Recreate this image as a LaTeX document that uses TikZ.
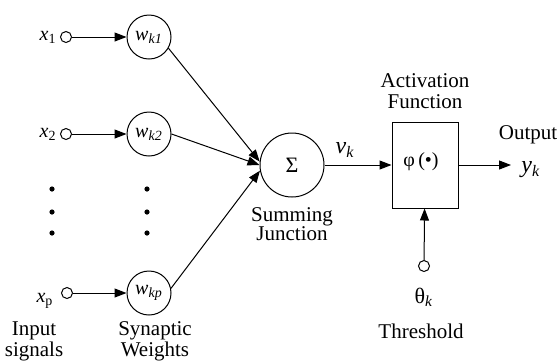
\documentclass[tikz,border=0pt]{standalone}
\usepackage{fontspec}
\setmainfont{Liberation Serif}
\usetikzlibrary{arrows.meta,positioning}
\tikzset{
  >={Triangle[length=6pt,width=4.5pt]},
  pin/.style={circle,draw,line width=0.5pt,inner sep=0pt,minimum size=5.5pt},
  weight/.style={circle,draw,line width=0.5pt,inner sep=0pt,minimum size=22pt,
                 font=\fontsize{10}{11}\selectfont},
  summer/.style={circle,draw,line width=0.5pt,inner sep=0pt,minimum size=32pt,
                 font=\fontsize{11}{12}\selectfont},
  actbox/.style={rectangle,draw,line width=0.5pt,inner sep=0pt,
                 minimum width=33pt,minimum height=43pt},
  sig/.style={inner sep=1pt,font=\fontsize{10}{11}\selectfont},
  caption/.style={align=center,inner sep=0pt,font=\fontsize{10.5}{9.5}\selectfont},
  flow/.style={->,line width=0.5pt},
}
\begin{document}
\begin{tikzpicture}[x=0.5pt,y=-0.5pt]
  \useasboundingbox (0,0) rectangle (560,360);
  % input signals and synaptic weights
  \node[pin] (x1) at (66,37) {};
  \node[pin] (x2) at (66,134) {};
  \node[pin] (xp) at (67,293) {};
  \node[sig, left=0.5pt of x1] (lx1) {\textit{x}\textsubscript{1}};
  \node[sig, left=0.5pt of x2] (lx2) {\textit{x}\textsubscript{2}};
  \node[sig] (lxp) at (45,301) {\textit{x}\textsubscript{p}};
  \node[weight] (w1) at (149,37) {\textit{w\textsubscript{k1}}};
  \node[weight] (w2) at (149,134) {\textit{w\textsubscript{k2}}};
  \node[weight] (wp) at (149,293) {\textit{w\textsubscript{kp}}};
  \draw[flow] (x1) -- (w1);
  \draw[flow] (x2) -- (w2);
  \draw[flow] (xp) -- (wp);
  \foreach \y in {189,212,233} {
    \fill (52,\y) circle (1.3pt);
    \fill (147,\y) circle (1.3pt);
  }
  % summing junction and activation
  \node[summer] (sum) at (292,165) {Σ};
  \draw[flow] (w1.-30) -- (sum.174);
  \draw[flow] (w2.east) -- (sum.180);
  \draw[flow] (wp.12) -- (sum.190);
  \node[actbox] (act) at (425,165) {};
  \node[sig] (phi) at (421,162) {φ\,(•)};
  \draw[flow] (sum) -- (act);
  \node[sig, font=\fontsize{12}{13}\selectfont] (vk) at (345,150) {\textit{v\textsubscript{k}}};
  \coordinate (out) at (511,165);
  \draw[flow] (act) -- (out);
  \node[sig, font=\fontsize{12}{13}\selectfont, anchor=west] (yk) at (519,170) {\textit{y\textsubscript{k}}};
  \node[caption] (outtxt) at (528,135) {Output};
  \node[caption, above=6pt of act] (acttxt) {Activation\\[1pt]Function};
  % threshold
  \node[pin] (th) at (424,266) {};
  \draw[flow] (th) -- (act);
  \node[sig, font=\fontsize{11}{12}\selectfont] (thk) at (424,297) {θ\textsubscript{\textit{k}}};
  % captions
  \node[caption] (thtxt) at (421,331) {Threshold};
  \node[caption] (sumtxt) at (292,224) {Summing\\Junction};
  \node[caption] (intxt) at (34,341) {Input\\signals};
  \node[caption] (wtxt) at (155,341) {Synaptic\\Weights};
\end{tikzpicture}
\end{document}
